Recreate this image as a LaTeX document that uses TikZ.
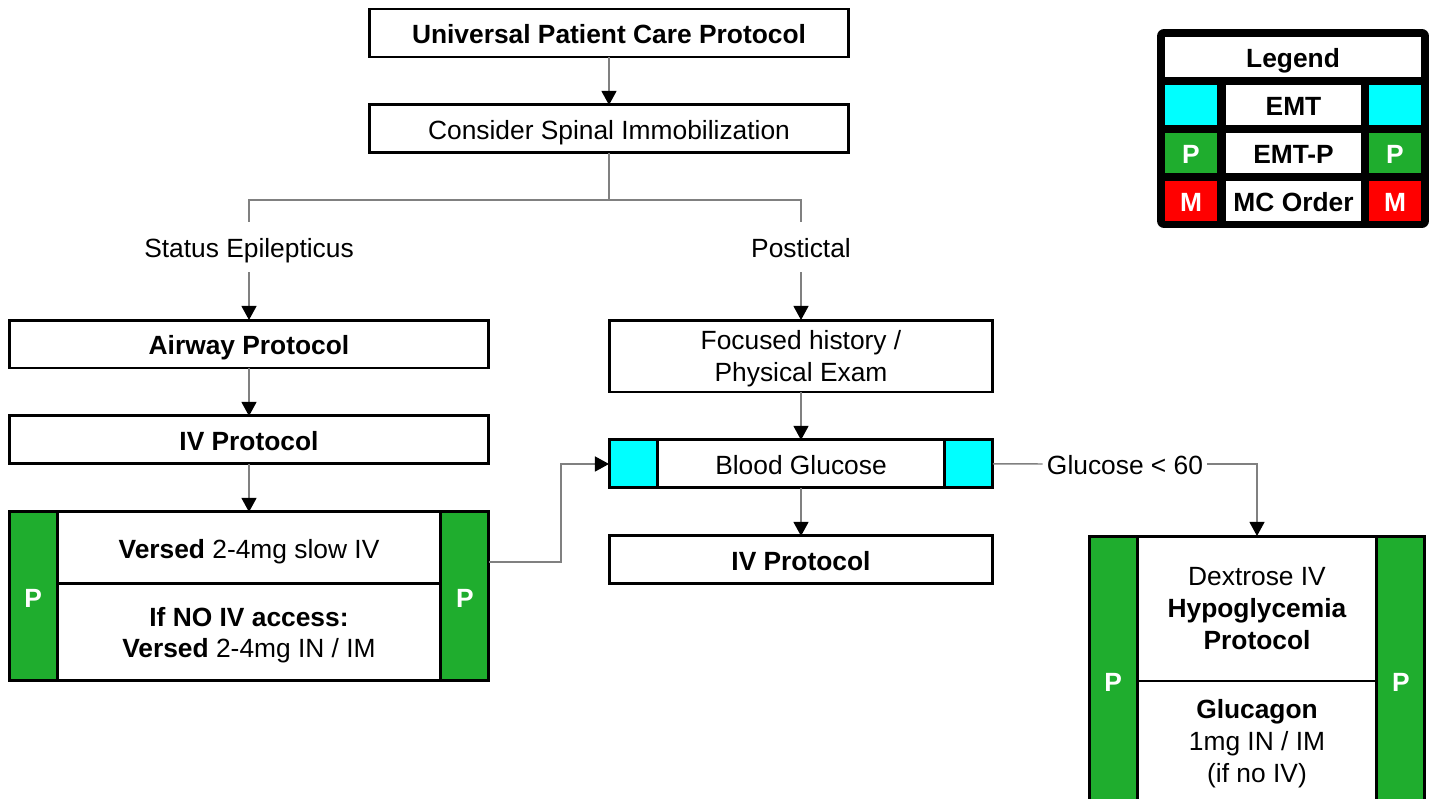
\documentclass[tikz,border=0pt]{standalone}
\usepackage{fontspec}
\setmainfont{Liberation Sans}
\usepackage{tikz}
\usetikzlibrary{positioning}
\usetikzlibrary{arrows.meta}
\definecolor{pgreen}{RGB}{31,173,46}
\definecolor{emtcyan}{RGB}{0,255,255}
\definecolor{mcred}{RGB}{255,0,0}
\definecolor{linegray}{RGB}{128,128,128}
\tikzset{
  one_l/.style = {text height=12pt, text depth=0pt},% single line text
  multi_l/.style = {text depth=0pt},% several lines
  boxnode/.style = {draw=black, line width=1.7pt, fill=white, align=center,
    inner sep=0pt, outer sep=0pt, minimum height=0.96cm},
  box_w/.style = {boxnode, one_l, minimum width=9.6cm},% wide box
  box_m/.style = {boxnode, minimum width=7.68cm},% middle box
  cell_p/.style = {boxnode, one_l, fill=pgreen, text=white, font=\bfseries,
    minimum width=0.96cm},% paramedic column
  cell_e/.style = {boxnode, fill=emtcyan, minimum width=0.96cm},% emt column
  lbl/.style = {one_l, inner xsep=2.5pt, inner ysep=0pt, outer sep=0pt, minimum height=1cm},
  conn/.style = {draw=linegray, line width=0.85pt},
  arr/.style = {conn, -{Triangle[length=8pt,width=8.5pt,color=black]}},
  leg_c/.style = {one_l, inner sep=0pt, font=\bfseries, minimum height=0.8cm},
}

\begin{document}
\fontsize{15}{18}\selectfont
\begin{tikzpicture}[x=0.02cm,y=-0.02cm]
\useasboundingbox[fill=white] (0,0) rectangle (1430,798);
\clip (0,0) rectangle (1430,798);

% top
\node [box_w, font=\bfseries] (ucp) at (609,33) {Universal Patient Care Protocol};
\node [box_w, below=0.96cm of ucp] (csi) {Consider Spinal Immobilization};
\coordinate (split) at (609,200);
\node [lbl] (se) at (249,247) {Status Epilepticus};
\node [lbl] (pi) at (801,247) {Postictal};

% status epilepticus
\node [box_w, font=\bfseries] (air) at (249,344) {Airway Protocol};
\node [box_w, font=\bfseries, below=0.96cm of air] (ivl) {IV Protocol};
\node [box_m, one_l, minimum height=1.44cm, below=0.96cm of ivl] (vs1) {\textbf{Versed} 2-4mg slow IV};
\node [box_m, multi_l, minimum height=1.94cm, below=0pt of vs1] (vs2) {\textbf{If NO IV access:}\\\textbf{Versed} 2-4mg IN / IM};
\node [cell_p, minimum height=3.38cm, anchor=north east] (vpl) at (vs1.north west) {P};
\node [cell_p, minimum height=3.38cm, anchor=north west] (vpr) at (vs1.north east) {P};

% postictal
\node [box_m, multi_l, minimum height=1.44cm] (fh) at (801,356) {Focused history /\\Physical Exam};
\node [boxnode, one_l, minimum width=5.76cm, below=0.96cm of fh] (bg) {Blood Glucose};
\node [cell_e, anchor=east] (bgl) at (bg.west) {};
\node [cell_e, anchor=west] (bgr) at (bg.east) {};
\node [box_m, one_l, font=\bfseries, below=0.96cm of bg] (ivr) {IV Protocol};

% hypoglycemia
\node [lbl] (glc) at (1125,464) {Glucose < 60};
\node [boxnode, multi_l, minimum width=4.8cm, minimum height=2.9cm] (dx1) at (1257,608.5) {Dextrose IV\\\textbf{Hypoglycemia}\\\textbf{Protocol}};
\node [boxnode, multi_l, minimum width=4.8cm, minimum height=2.4cm, below=0pt of dx1] (dx2) {\textbf{Glucagon}\\1mg IN / IM\\(if no IV)};
\node [cell_p, minimum height=5.8cm, anchor=north east] (dpl) at (dx1.north west) {P};
\node [cell_p, minimum height=5.8cm, anchor=north west] (dpr) at (dx1.north east) {P};

% legend
\node [fill=black, rounded corners=4pt, inner sep=0pt, minimum width=5.44cm, minimum height=3.98cm] (legend) at (1293,128.5) {};
\node [leg_c, fill=white, minimum width=5.12cm] (lgt) at (1293,57) {Legend};
\node [leg_c, fill=emtcyan, minimum width=1.04cm] (le1) at (1191,105) {};
\node [leg_c, fill=white, minimum width=2.7cm] (le2) at (1293.5,105) {EMT};
\node [leg_c, fill=emtcyan, minimum width=1.04cm] (le3) at (1395,105) {};
\node [leg_c, fill=pgreen, text=white, minimum width=1.04cm] (lp1) at (1191,153) {P};
\node [leg_c, fill=white, minimum width=2.7cm] (lp2) at (1293.5,153) {EMT-P};
\node [leg_c, fill=pgreen, text=white, minimum width=1.04cm] (lp3) at (1395,153) {P};
\node [leg_c, fill=mcred, text=white, minimum width=1.04cm] (lm1) at (1191,201) {M};
\node [leg_c, fill=white, minimum width=2.7cm] (lm2) at (1293.5,201) {MC Order};
\node [leg_c, fill=mcred, text=white, minimum width=1.04cm] (lm3) at (1395,201) {M};

% connectors
\draw [arr] (ucp) -- (csi);
\draw [conn] (csi) -- (split) -| (se);
\draw [conn] (split) -| (pi);
\draw [arr] (se) -- (air);
\draw [arr] (air) -- (ivl);
\draw [arr] (ivl) -- (vs1);
\draw [arr] (pi) -- (fh);
\draw [arr] (fh) -- (bg);
\draw [arr] (bg) -- (ivr);
\draw [arr] ([yshift=0.69cm]vpr.east) -- ++(72,0) |- (bgl);
\draw [conn] (bgr) -- (glc);
\draw [arr] (glc) -| (dx1);
\end{tikzpicture}
\end{document}
